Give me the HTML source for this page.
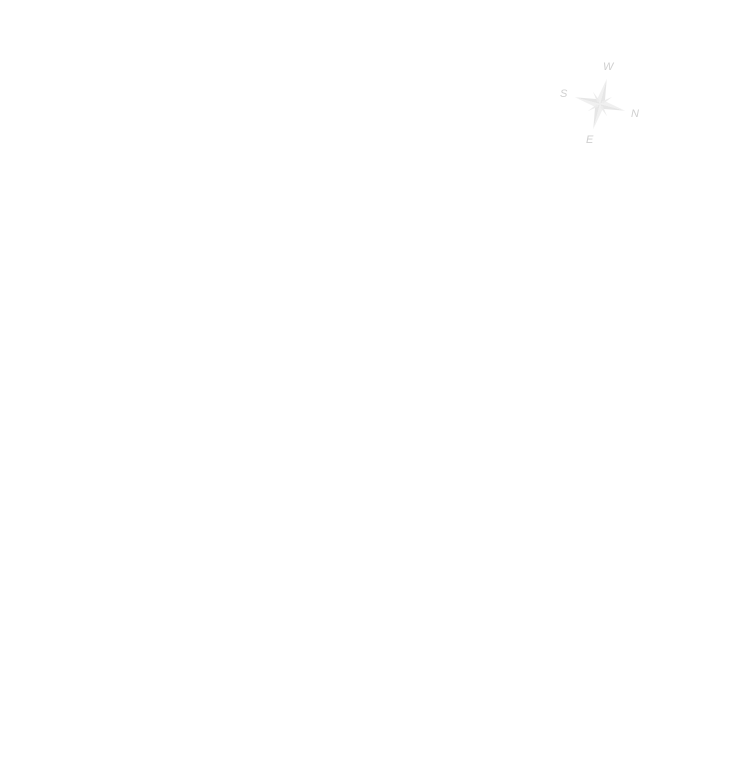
<!DOCTYPE html>
<html><head><style>
html,body{margin:0;padding:0;background:#fff;width:740px;height:768px;overflow:hidden}
</style></head><body>
<svg width="740" height="768" viewBox="0 0 740 768" xmlns="http://www.w3.org/2000/svg">
<rect width="740" height="768" fill="#fff"/>
<g transform="translate(600,104) rotate(15)">
<polygon points="0,-26 4,-4 0,0" fill="#e6e6e6"/>
<polygon points="0,-26 -4,-4 0,0" fill="#f0f0f0"/>
<polygon points="26,0 4,4 0,0" fill="#e6e6e6"/>
<polygon points="26,0 4,-4 0,0" fill="#f0f0f0"/>
<polygon points="0,26 -4,4 0,0" fill="#e6e6e6"/>
<polygon points="0,26 4,4 0,0" fill="#f0f0f0"/>
<polygon points="-26,0 -4,-4 0,0" fill="#e6e6e6"/>
<polygon points="-26,0 -4,4 0,0" fill="#f0f0f0"/>
<polygon points="10,-10 3,-1 1,-3" fill="#ececec"/>
<polygon points="10,10 1,3 3,1" fill="#ececec"/>
<polygon points="-10,10 -3,1 -1,3" fill="#ececec"/>
<polygon points="-10,-10 -1,-3 -3,-1" fill="#ececec"/>
</g>
<g font-family="Liberation Sans, sans-serif" font-style="italic" font-size="11" fill="#cfcfcf">
<text x="603" y="70">W</text>
<text x="631" y="117">N</text>
<text x="586" y="143">E</text>
<text x="560" y="97">S</text>
</g>
</svg>
</body></html>
